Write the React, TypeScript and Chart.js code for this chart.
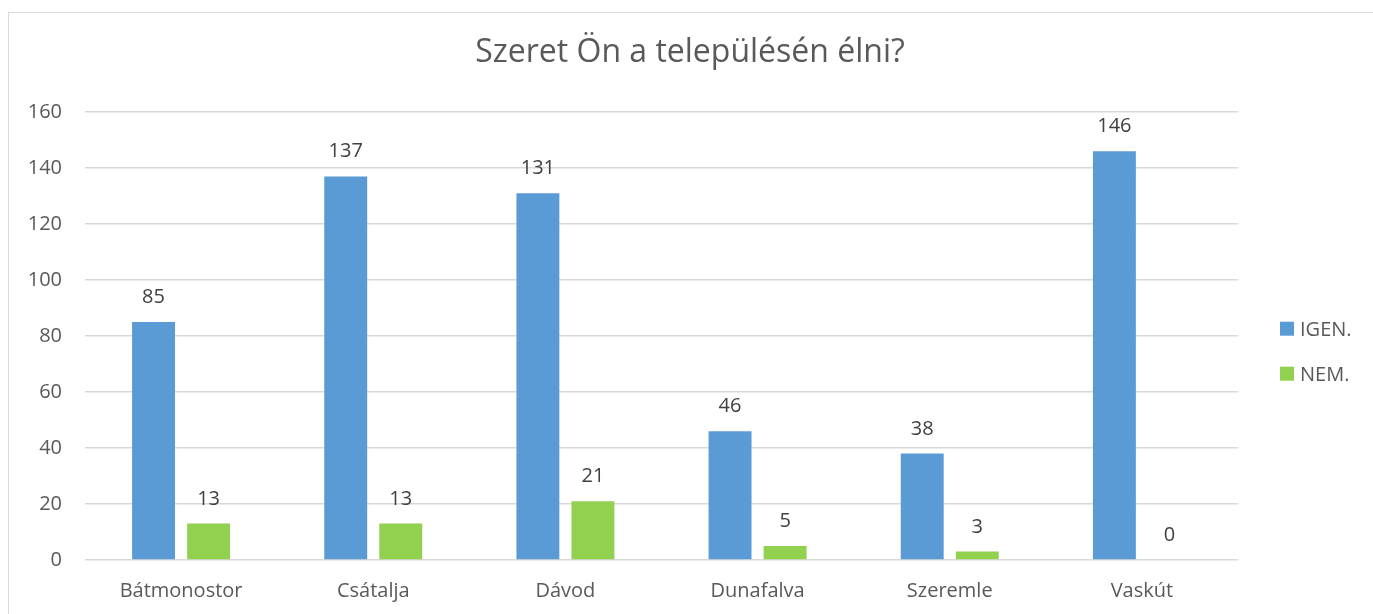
import React, { useEffect, useRef } from "react";
import { Chart, registerables } from "chart.js";

Chart.register(...registerables);

const categories = ["Bátmonostor", "Csátalja", "Dávod", "Dunafalva", "Szeremle", "Vaskút"];
const igenValues = [85, 137, 131, 46, 38, 146];
const nemValues = [13, 13, 21, 5, 3, 0];
const seriesLabels = ["IGEN.", "NEM."];
const yTicks = [0, 20, 40, 60, 80, 100, 120, 140, 160];
const titleText = "Szeret Ön a településén élni?";

const FONT = "'Open Sans', sans-serif";
const TEXT = "#595959";

const dataLabelPlugin = {
  id: "dataLabels",
  afterDatasetsDraw(chart: any) {
    const ctx = chart.ctx;
    ctx.save();
    ctx.font = `20px ${FONT}`;
    ctx.fillStyle = "#404040";
    ctx.textAlign = "center";
    ctx.textBaseline = "alphabetic";
    chart.data.datasets.forEach((ds: any, di: number) => {
      const meta = chart.getDatasetMeta(di);
      meta.data.forEach((bar: any, i: number) => {
        ctx.fillText(String(ds.data[i]), bar.x, bar.y - 19);
      });
    });
    ctx.restore();
  },
};

const titleLegendPlugin = {
  id: "titleLegend",
  afterDraw(chart: any) {
    const ctx = chart.ctx;
    ctx.save();
    // title
    ctx.font = `32px ${FONT}`;
    ctx.fillStyle = TEXT;
    ctx.textAlign = "center";
    ctx.textBaseline = "alphabetic";
    ctx.fillText(titleText, chart.width / 2, 49);
    // legend
    ctx.font = `20px ${FONT}`;
    ctx.textAlign = "left";
    const x = chart.width - 91;
    chart.data.datasets.forEach((ds: any, i: number) => {
      const bottom = 322.7 + i * 45;
      ctx.fillStyle = ds.backgroundColor;
      ctx.fillRect(x, bottom - 14, 14, 14);
      ctx.fillStyle = TEXT;
      ctx.fillText(ds.label, x + 20, bottom);
    });
    ctx.restore();
  },
};

export default function App() {
  const ref = useRef<HTMLCanvasElement | null>(null);

  useEffect(() => {
    if (!ref.current) return;
    const chart = new Chart(ref.current, {
      type: "bar",
      data: {
        labels: categories,
        datasets: [
          {
            label: seriesLabels[0],
            data: igenValues,
            backgroundColor: "#5B9BD5",
            categoryPercentage: 0.573,
            barPercentage: 0.78,
          },
          {
            label: seriesLabels[1],
            data: nemValues,
            backgroundColor: "#92D050",
            categoryPercentage: 0.573,
            barPercentage: 0.78,
          },
        ],
      },
      options: {
        responsive: false,
        animation: false,
        layout: { padding: { left: 18, right: 133, top: 99, bottom: 30 } },
        plugins: {
          legend: { display: false },
          tooltip: { enabled: false },
          title: { display: false },
        },
        scales: {
          x: {
            grid: { display: false, drawTicks: false },
            border: { display: false },
            ticks: {
              color: TEXT,
              font: { family: FONT, size: 20 },
              padding: 19,
              maxRotation: 0,
            },
            afterFit: (scale: any) => {
              scale.height = 43;
            },
          },
          y: {
            min: yTicks[0],
            max: yTicks[yTicks.length - 1],
            afterBuildTicks: (scale: any) => {
              scale.ticks = yTicks.map((v) => ({ value: v }));
            },
            afterFit: (scale: any) => {
              scale.width = 58;
            },
            grid: { color: "#D9D9D9", lineWidth: 1.5, drawTicks: false },
            border: { display: false },
            ticks: {
              color: TEXT,
              font: { family: FONT, size: 20 },
              padding: 23,
              stepSize: 20,
            },
          },
        },
      },
      plugins: [dataLabelPlugin, titleLegendPlugin],
    });
    return () => chart.destroy();
  }, []);

  return (
    <div style={{ position: "fixed", left: 0, top: 0, width: "100vw", height: "100vh", overflow: "hidden", background: "#fff" }}>
      <div
        style={{
          position: "absolute",
          left: 8,
          top: 12,
          width: 1400,
          height: 700,
          border: "1px solid #D9D9D9",
          background: "#fff",
        }}
      >
        <canvas
          ref={ref}
          width={1362}
          height={620}
          style={{ position: "absolute", left: 0, top: 0, width: 1362, height: 620 }}
        />
      </div>
    </div>
  );
}
